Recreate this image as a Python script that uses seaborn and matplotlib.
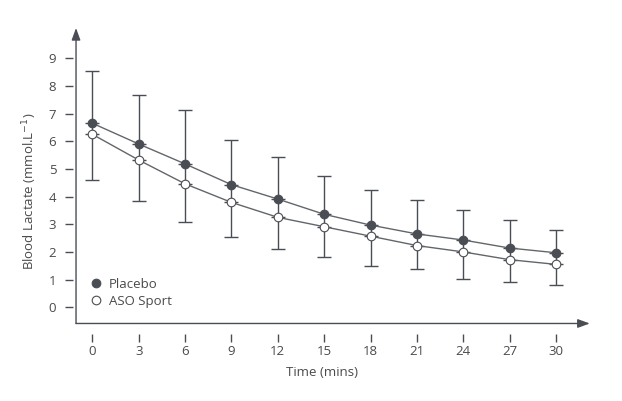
import matplotlib
matplotlib.use("Agg")
import matplotlib.pyplot as plt
from matplotlib.lines import Line2D
import numpy as np
import pandas as pd
import seaborn as sns

time_mins = [0, 3, 6, 9, 12, 15, 18, 21, 24, 27, 30]
placebo = [6.65, 5.90, 5.18, 4.43, 3.91, 3.36, 2.97, 2.65, 2.43, 2.14, 1.97]
placebo_upper = [8.52, 7.68, 7.11, 6.06, 5.44, 4.75, 4.24, 3.89, 3.51, 3.17, 2.78]
aso_sport = [6.25, 5.32, 4.46, 3.79, 3.25, 2.91, 2.57, 2.23, 2.00, 1.72, 1.55]
aso_lower = [4.61, 3.84, 3.07, 2.55, 2.10, 1.82, 1.49, 1.40, 1.03, 0.91, 0.81]
y_ticks = [0, 1, 2, 3, 4, 5, 6, 7, 8, 9]
series_names = ["Placebo", "ASO Sport"]

sns.set_theme(style="white")
plt.rcParams["font.family"] = ["Open Sans", "DejaVu Sans"]
plt.rcParams["mathtext.fontset"] = "dejavusans"

dark = "#4a4e54"
line_c = "#62666b"
text_c = "#4a4a4a"
msize = 6.2

fig = plt.figure(figsize=(6.22, 4.01), dpi=100)
ax = fig.add_axes([73 / 622, 1 - 334 / 401, (595 - 73) / 622, (334 - 28) / 401])

df = pd.DataFrame({
    "time": time_mins * 2,
    "value": placebo + aso_sport,
    "group": [series_names[0]] * len(time_mins) + [series_names[1]] * len(time_mins),
})

t = np.array(time_mins)
p = np.array(placebo)
a = np.array(aso_sport)
ax.errorbar(t, p, yerr=[np.zeros_like(p), np.array(placebo_upper) - p],
            fmt="none", ecolor=dark, elinewidth=1.0, capsize=5, capthick=1.0, zorder=2)
ax.errorbar(t, a, yerr=[a - np.array(aso_lower), np.zeros_like(a)],
            fmt="none", ecolor=dark, elinewidth=1.0, capsize=5, capthick=1.0, zorder=2)
ax.vlines(t, a, p, colors=dark, linewidth=1.0, zorder=2)

sns.lineplot(data=df[df.group == series_names[0]], x="time", y="value", ax=ax,
             color=line_c, linewidth=1.0, marker="o", markersize=msize,
             markerfacecolor=dark, markeredgecolor=dark, markeredgewidth=0.8,
             zorder=3, legend=False)
sns.lineplot(data=df[df.group == series_names[1]], x="time", y="value", ax=ax,
             color=line_c, linewidth=1.0, marker="o", markersize=msize,
             markerfacecolor="white", markeredgecolor=dark, markeredgewidth=0.8,
             zorder=3, legend=False)

ax.set_xlim(-1.25, 32.52)
ax.set_ylim(-0.965, 10.09)
ax.set_xticks(time_mins)
ax.set_xticklabels([str(v) for v in time_mins])
ax.set_yticks(y_ticks)
ax.set_yticklabels([str(v) for v in y_ticks])
for s in ax.spines.values():
    s.set_visible(False)
ax.tick_params(axis="both", which="both", direction="out", length=6, width=1.0,
               color=dark, labelcolor=text_c, labelsize=9.5, left=True, bottom=True)
ax.tick_params(axis="x", pad=2)
ax.tick_params(axis="y", pad=6)

x_ax = (-1.054 - (-1.25)) / (32.52 + 1.25)
y_ax = (-0.585 + 0.965) / (10.09 + 0.965)
ax.annotate("", xy=(x_ax, 1.0), xytext=(x_ax, y_ax), xycoords="axes fraction",
            arrowprops=dict(arrowstyle="-|>,head_length=0.6,head_width=0.22", color=dark, lw=1.0,
                            shrinkA=0, shrinkB=0))
ax.annotate("", xy=(0.99, y_ax), xytext=(x_ax, y_ax), xycoords="axes fraction",
            arrowprops=dict(arrowstyle="-|>,head_length=0.6,head_width=0.22", color=dark, lw=1.0,
                            shrinkA=0, shrinkB=0))

ax.set_xlabel("Time (mins)", fontsize=9.5, color=text_c)
ax.set_ylabel(r"Blood Lactate (mmol.L$^{-1}$)", fontsize=9.5, color=text_c)
ax.xaxis.set_label_coords((321.5 - 73) / 522, -(372 - 334) / 306)
ax.yaxis.set_label_coords((30 - 73) / 522, 1 - (191.5 - 28) / 306)
ax.xaxis.label.set_va("center")
ax.yaxis.label.set_va("center")

handles = [
    Line2D([], [], linestyle="none", marker="o", markersize=msize, markerfacecolor=dark,
           markeredgecolor=dark, markeredgewidth=0.8),
    Line2D([], [], linestyle="none", marker="o", markersize=msize, markerfacecolor="white",
           markeredgecolor=dark, markeredgewidth=0.8),
]
leg = ax.legend(handles, series_names, loc="lower left",
                bbox_to_anchor=((95.7 - 73 - 5) / 522, (334 - 308) / 306),
                frameon=False, fontsize=9.5, handlelength=0.8, handletextpad=0.6,
                labelspacing=0.3, borderaxespad=0.0, borderpad=0.0)
for txt in leg.get_texts():
    txt.set_color(text_c)

fig.savefig("out.png", dpi=100)
